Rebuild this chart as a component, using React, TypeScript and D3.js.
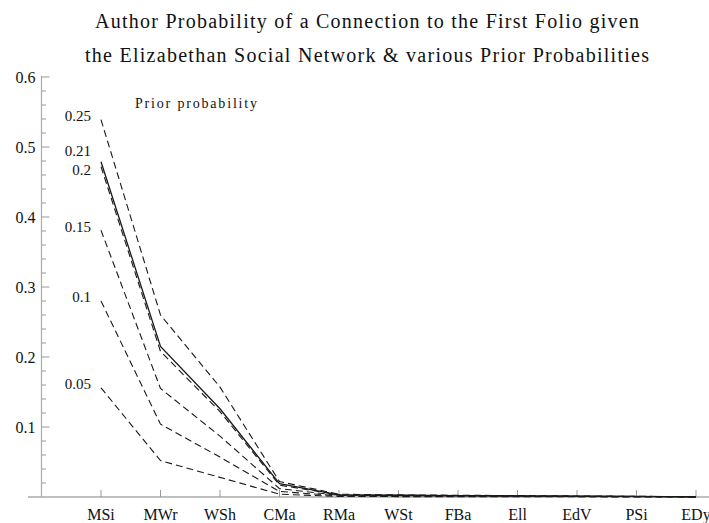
import React from "react";
import * as d3 from "d3";

const W = 709;
const H = 523;

const categories = ["MSi", "MWr", "WSh", "CMa", "RMa", "WSt", "FBa", "Ell", "EdV", "PSi", "EDy"];
const priorLabels = ["0.25", "0.21", "0.2", "0.15", "0.1", "0.05"];
const solidPrior = "0.21";

// values, one array per prior
const p25 = [0.539, 0.260, 0.157, 0.022, 0.004, 0.003, 0.0025, 0.002, 0.0015, 0.001, 0.0004];
const p21 = [0.479, 0.215, 0.126, 0.019, 0.003, 0.0025, 0.002, 0.0017, 0.0012, 0.0008, 0.0003];
const p20 = [0.472, 0.208, 0.122, 0.017, 0.003, 0.0024, 0.002, 0.0016, 0.0011, 0.0008, 0.0003];
const p15 = [0.381, 0.155, 0.087, 0.012, 0.0022, 0.0018, 0.0015, 0.0012, 0.0009, 0.0006, 0.0002];
const p10 = [0.280, 0.104, 0.057, 0.008, 0.0015, 0.0012, 0.001, 0.0008, 0.0006, 0.0004, 0.0002];
const p05 = [0.156, 0.052, 0.028, 0.004, 0.0008, 0.0006, 0.0005, 0.0004, 0.0003, 0.0002, 0.0001];

const yMajor = [0.1, 0.2, 0.3, 0.4, 0.5, 0.6];

const titleLines = [
  "Author Probability of a Connection to the First Folio given",
  "the Elizabethan Social Network & various Prior Probabilities",
];

const serif = "Liberation Serif, Tinos, Times New Roman, DejaVu Serif, serif";

export default function App() {
  const series = [p25, p21, p20, p15, p10, p05];

  const x = d3.scaleLinear().domain([0, categories.length - 1]).range([101, 696]);
  const y = d3.scaleLinear().domain([0, 0.6]).range([497, 77]);
  const axisX = x(-1);

  const line = d3
    .line<number>()
    .x((_, i) => x(i))
    .y((d) => y(d));

  const minor = d3.range(1, 30).map((k) => k * 0.02).filter((v) => Math.abs(v * 10 - Math.round(v * 10)) > 1e-6);

  // label positions near line start, spread apart if they collide
  const labs = series.map((s, i) => ({ t: priorLabels[i], c: y(s[0]) - 4 }));
  const gap = 19;
  for (let k = 0; k < labs.length - 1; k++) {
    const a = labs[k], b = labs[k + 1];
    if (b.c - a.c < gap) {
      const m = (a.c + b.c) / 2;
      a.c = m - gap / 2;
      b.c = m + gap / 2;
    }
  }

  return (
    <svg width={W} height={H} style={{ position: "absolute", left: 0, top: 0, background: "#fff", fontFamily: serif }}>
      {titleLines.map((t, i) => (
        <text key={i} x={367} y={28 + i * 34} textAnchor="middle" fontSize={20} fill="#111"
          textLength={i === 0 ? 544 : 564} lengthAdjust="spacing">
          {t}
        </text>
      ))}

      {/* axes */}
      <line x1={28} x2={W} y1={y(0)} y2={y(0)} stroke="#aaa" strokeWidth={1.5} />
      <line x1={axisX} x2={axisX} y1={y(0)} y2={y(0.6) - 1} stroke="#aaa" strokeWidth={1.2} />

      {minor.map((v) => (
        <line key={"m" + v} x1={axisX} x2={axisX + 4.5} y1={y(v)} y2={y(v)} stroke="#999" />
      ))}
      {yMajor.map((v) => (
        <g key={"M" + v}>
          <line x1={axisX} x2={axisX + 8} y1={y(v)} y2={y(v)} stroke="#999" />
          <text x={axisX - 6} y={y(v)} dy="0.35em" textAnchor="end" fontSize={16} fill="#111">
            {d3.format("")(v)}
          </text>
        </g>
      ))}

      {categories.map((c, i) => (
        <g key={c}>
          <line x1={x(i)} x2={x(i)} y1={y(0)} y2={y(0) - 7} stroke="#999" />
          <text x={x(i)} y={520} textAnchor="middle" fontSize={16} fill="#111">
            {c}
          </text>
        </g>
      ))}

      {series.map((s, i) => (
        <path
          key={priorLabels[i]}
          d={line(s) || ""}
          fill="none"
          stroke="#1a1a1a"
          strokeWidth={priorLabels[i] === solidPrior ? 1.3 : 1.1}
          strokeDasharray={priorLabels[i] === solidPrior ? undefined : "7,4"}
        />
      ))}

      {labs.map((l) => (
        <text key={"l" + l.t} x={x(0) - 10} y={l.c} dy="0.35em" textAnchor="end" fontSize={15} fill="#111">
          {l.t}
        </text>
      ))}

      <text x={135} y={108} fontSize={14} fill="#111" textLength={122} lengthAdjust="spacing">
        Prior probability
      </text>
    </svg>
  );
}
